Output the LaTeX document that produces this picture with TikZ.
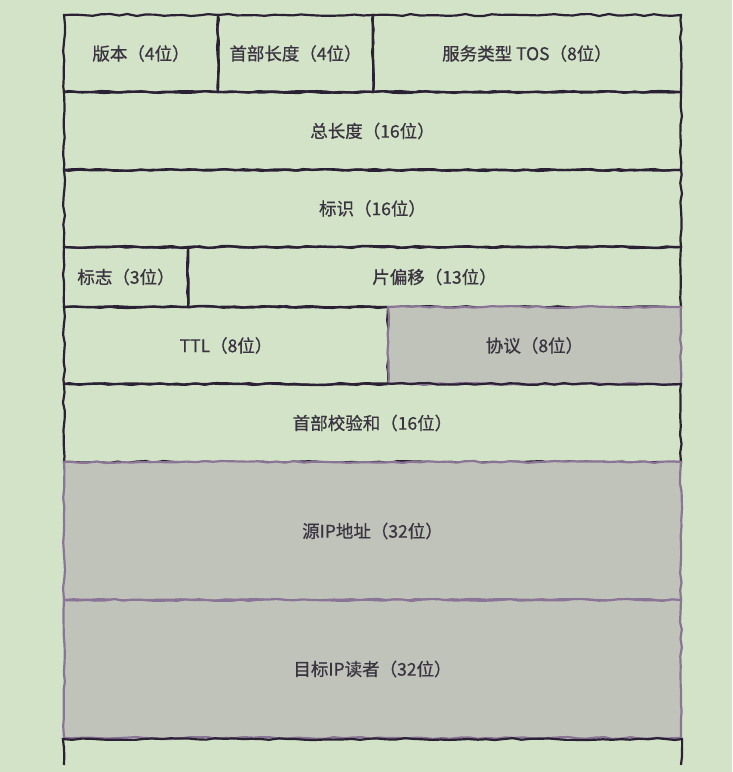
\documentclass[tikz,border=0pt]{standalone}
\usepackage{fontspec}
\newfontfamily\cjk[FakeBold=0.7]{Noto Sans CJK SC}
\usetikzlibrary{decorations.pathmorphing}
\definecolor{bg}{HTML}{D3E3C7}
\definecolor{ink}{HTML}{2B2135}
\definecolor{lav}{HTML}{8B7596}
\definecolor{shade}{HTML}{C0C3BA}
\definecolor{txt}{HTML}{3A3340}
\begin{document}
\pgfmathsetseed{7}
\begin{tikzpicture}[x=1pt,y=-1pt,
  field/.style={draw=ink, line width=2.2pt, decorate,
    decoration={random steps, segment length=9pt, amplitude=1pt},
    font=\cjk\fontsize{17.5}{20}\selectfont, text=txt, inner sep=0pt},
  shaded/.style={field, draw=lav, fill=shade},
  edge/.style={draw=ink, line width=2.2pt, decorate,
    decoration={random steps, segment length=9pt, amplitude=1pt}}]
\fill[bg] (0,0) rectangle (732,772);
\useasboundingbox (0,0) rectangle (732,772);
% row 1
\node[field, minimum width=154pt, minimum height=77pt] (ver) at (141,53.5) {版本（4位）};
\node[field, minimum width=155pt, minimum height=77pt] (ihl) at (295.5,53.5) {首部长度（4位）};
\node[field, minimum width=308pt, minimum height=77pt] (tos) at (527,53.5) {服务类型 TOS（8位）};
% row 2
\node[field, minimum width=617pt, minimum height=78pt] (len) at (372.5,131) {总长度（16位）};
% row 3
\node[field, minimum width=617pt, minimum height=77pt] (id) at (372.5,208.5) {标识（16位）};
% row 4
\node[field, minimum width=124pt, minimum height=60pt] (flag) at (126,277) {标志（3位）};
\node[field, minimum width=493pt, minimum height=60pt] (frag) at (434.5,277) {片偏移（13位）};
% row 5
\node[field, minimum width=324pt, minimum height=77pt] (ttl) at (226,345.5) {TTL（8位）};
\node[shaded, minimum width=293pt, minimum height=77pt] (proto) at (534.5,345.5) {协议（8位）};
% row 6
\node[field, minimum width=617pt, minimum height=78pt] (csum) at (372.5,423) {首部校验和（16位）};
% row 7, 8
\node[shaded, minimum width=617pt, minimum height=138pt] (src) at (372.5,531) {源IP地址（32位）};
\node[shaded, minimum width=617pt, minimum height=138pt] (dst) at (372.5,669) {目标IP读者（32位）};
% open bottom
\coordinate (bl) at (64,765);
\coordinate (br) at (681,765);
\draw[edge] (bl) -- (dst.south west) -- (dst.south east) -- (br);
\end{tikzpicture}
\end{document}
